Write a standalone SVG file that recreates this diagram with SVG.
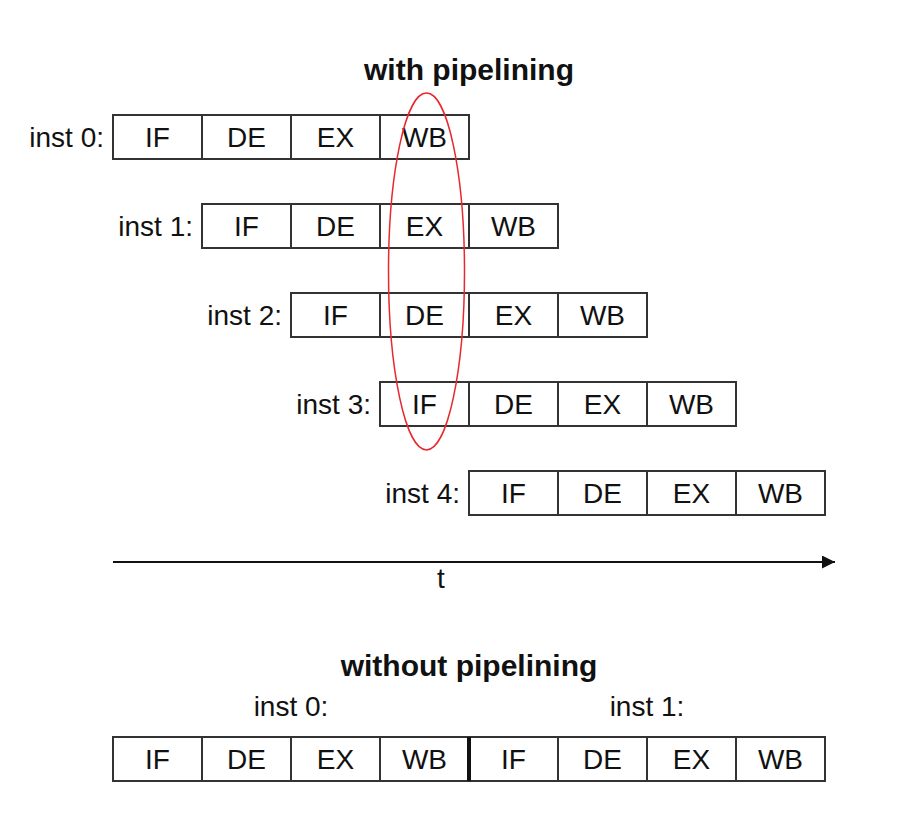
<svg xmlns="http://www.w3.org/2000/svg" width="920" height="831" viewBox="0 0 920 831">
<defs>
<style>
.cell{fill:#fff;stroke:#333;stroke-width:2}
.t{font-family:"Liberation Sans",Arial,sans-serif;font-size:28px;fill:#111;text-anchor:middle}
.lbl{font-family:"Liberation Sans",Arial,sans-serif;font-size:28px;fill:#111;text-anchor:end}
.title{font-family:"Liberation Sans",Arial,sans-serif;font-size:30px;font-weight:bold;fill:#111;text-anchor:middle}
</style>
<marker id="ah" viewBox="0 0 10 10" refX="10" refY="5" markerWidth="13" markerHeight="13" markerUnits="userSpaceOnUse" orient="auto">
<path d="M0,0 L10,5 L0,10 z" fill="#111"/>
</marker>
<g id="row">
<rect class="cell" x="0" y="0" width="89" height="44"/>
<rect class="cell" x="89" y="0" width="89" height="44"/>
<rect class="cell" x="178" y="0" width="89" height="44"/>
<rect class="cell" x="267" y="0" width="89" height="44"/>
<text class="t" x="44.5" y="32">IF</text>
<text class="t" x="133.5" y="32">DE</text>
<text class="t" x="222.5" y="32">EX</text>
<text class="t" x="311.5" y="32">WB</text>
</g>
</defs>
<rect width="920" height="831" fill="#fff"/>
<text class="title" x="469" y="80">with pipelining</text>
<g id="inst0">
<text class="lbl" x="104" y="147">inst 0:</text>
<use href="#row" x="113" y="115"/>
</g>
<g id="inst1">
<text class="lbl" x="193" y="236">inst 1:</text>
<use href="#row" x="202" y="204"/>
</g>
<g id="inst2">
<text class="lbl" x="282" y="325">inst 2:</text>
<use href="#row" x="291" y="293"/>
</g>
<g id="inst3">
<text class="lbl" x="371" y="414">inst 3:</text>
<use href="#row" x="380" y="382"/>
</g>
<g id="inst4">
<text class="lbl" x="460" y="503">inst 4:</text>
<use href="#row" x="469" y="471"/>
</g>
<g id="highlight">
<ellipse cx="426.5" cy="271.5" rx="38" ry="178.5" fill="none" stroke="#e8272e" stroke-width="1.5"/>
</g>
<g id="connectors">
<line x1="113" y1="562" x2="835" y2="562" stroke="#111" stroke-width="2" marker-end="url(#ah)"/>
</g>
<text class="t" x="441" y="588">t</text>
<text class="title" x="469" y="676">without pipelining</text>
<g id="seq">
<text class="t" x="291" y="716">inst 0:</text>
<text class="t" x="647" y="716">inst 1:</text>
<use href="#row" x="113" y="737"/>
<use href="#row" x="469" y="737"/>
<line x1="469" y1="737" x2="469" y2="781" stroke="#111" stroke-width="4"/>
</g>
</svg>
